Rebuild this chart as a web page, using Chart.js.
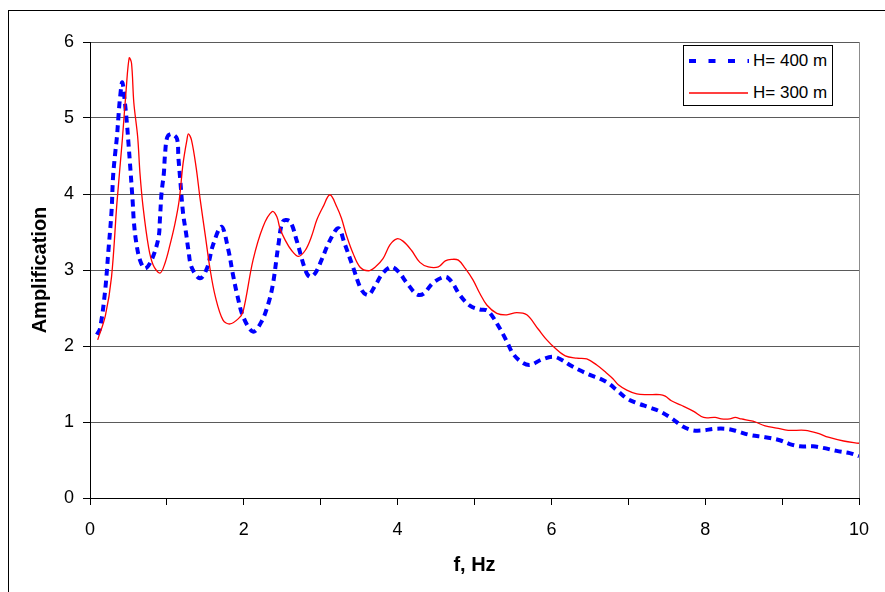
<!DOCTYPE html>
<html>
<head>
<meta charset="utf-8">
<script src="https://cdn.jsdelivr.net/npm/chart.js@4.4.1/dist/chart.umd.min.js"></script>
<style>
  html, body { margin: 0; padding: 0; background: #fff; }
  #wrap { position: relative; width: 885px; height: 592px; overflow: hidden; }
  #legend { position: absolute; left: 683px; top: 45px; width: 148px; height: 59px; border: 1px solid #000; background: #fff;
            font-family: 'Liberation Sans', Arial, sans-serif; font-size: 17px; color: #000; }
  .row { position: absolute; left: 0; height: 20px; width: 148px; }
  .row svg { position: absolute; left: 4px; top: 0; }
  .row span { position: absolute; left: 69px; top: 0px; white-space: nowrap; line-height: 20px; }
</style>
</head>
<body>
<div id="wrap">
  <canvas id="c" width="885" height="592"></canvas>
  <div id="legend">
    <div class="row" style="top:5px">
      <svg width="62" height="20"><line x1="1" y1="10" x2="61" y2="10" stroke="#0000ff" stroke-width="4" stroke-dasharray="7,12.5"/></svg>
      <span>H= 400 m</span>
    </div>
    <div class="row" style="top:37px">
      <svg width="62" height="20"><line x1="1" y1="10" x2="60" y2="10" stroke="#ff0000" stroke-width="1.5"/></svg>
      <span>H= 300 m</span>
    </div>
  </div>
</div>
<script>
// ---- data ----
const seriesNames = ['H= 400 m', 'H= 300 m'];

const f400 = [0.09, 0.13, 0.195, 0.24, 0.28, 0.30, 0.325, 0.35, 0.37, 0.39, 0.42, 0.455, 0.48, 0.50, 0.52, 0.555, 0.57, 0.60, 0.65, 0.715,
  0.80, 0.89, 0.91, 0.93, 0.96, 0.975, 1.005, 1.06, 1.13, 1.15, 1.17, 1.21, 1.25, 1.28, 1.32, 1.43, 1.52, 1.60, 1.71, 1.80,
  1.855, 1.915, 1.99, 2.12, 2.23, 2.32, 2.38, 2.45, 2.51, 2.60, 2.69, 2.80, 2.86, 2.93, 3.01, 3.12, 3.23, 3.31, 3.42, 3.53,
  3.62, 3.71, 3.81, 3.92, 4.01, 4.12, 4.25, 4.34, 4.46, 4.62, 4.70, 4.81, 4.94, 5.07, 5.16, 5.22, 5.33, 5.42, 5.50, 5.61,
  5.72, 5.87, 6.02, 6.13, 6.24, 6.37, 6.50, 6.63, 6.74, 6.85, 6.98, 7.11, 7.28, 7.41, 7.56, 7.71, 7.84, 7.98, 8.11, 8.28,
  8.41, 8.58, 8.78, 8.97, 9.10, 9.23, 9.40, 9.53, 9.71, 9.88, 10.0];
const a400 = [2.15, 2.23, 2.71, 3.26, 3.77, 4.23, 4.51, 4.75, 5.02, 5.26, 5.47, 5.19, 4.93, 4.67, 4.40, 3.90, 3.64, 3.37, 3.13, 3.02,
  3.13, 3.42, 3.68, 4.01, 4.27, 4.51, 4.75, 4.79, 4.73, 4.47, 4.23, 3.75, 3.48, 3.26, 3.04, 2.89, 3.02, 3.33, 3.57, 3.26,
  2.96, 2.67, 2.39, 2.19, 2.32, 2.56, 2.82, 3.33, 3.64, 3.64, 3.38, 3.00, 2.91, 2.96, 3.13, 3.39, 3.55, 3.35, 3.04, 2.74,
  2.67, 2.80, 2.96, 3.04, 2.98, 2.83, 2.68, 2.69, 2.83, 2.91, 2.85, 2.67, 2.53, 2.48, 2.47, 2.41, 2.23, 2.06, 1.90, 1.79,
  1.75, 1.82, 1.86, 1.82, 1.75, 1.68, 1.62, 1.57, 1.51, 1.42, 1.31, 1.25, 1.19, 1.14, 1.05, 0.94, 0.89, 0.89, 0.91, 0.91,
  0.88, 0.83, 0.80, 0.76, 0.71, 0.68, 0.68, 0.66, 0.62, 0.59, 0.55];

const f300 = [0.10, 0.20, 0.28, 0.35, 0.42, 0.47, 0.51, 0.54, 0.57, 0.62, 0.65, 0.69, 0.76, 0.82, 0.91, 0.975, 1.04, 1.105, 1.16, 1.21,
  1.26, 1.28, 1.32, 1.38, 1.43, 1.50, 1.56, 1.63, 1.73, 1.82, 1.93, 1.99, 2.12, 2.25, 2.37, 2.43, 2.47, 2.54, 2.62, 2.71,
  2.80, 2.88, 2.95, 3.03, 3.12, 3.21, 3.27, 3.34, 3.42, 3.51, 3.62, 3.71, 3.81, 3.90, 3.99, 4.07, 4.18, 4.29, 4.40, 4.53,
  4.62, 4.70, 4.79, 4.88, 4.98, 5.07, 5.16, 5.29, 5.42, 5.55, 5.68, 5.83, 5.94, 6.05, 6.18, 6.33, 6.46, 6.59, 6.70, 6.80,
  6.87, 6.98, 7.11, 7.24, 7.41, 7.48, 7.56, 7.69, 7.85, 7.98, 8.13, 8.21, 8.32, 8.39, 8.47, 8.62, 8.78, 8.93, 9.08, 9.30,
  9.47, 9.60, 9.80, 10.0];
const a300 = [2.08, 2.40, 2.91, 3.88, 4.71, 5.37, 5.79, 5.72, 5.20, 4.75, 4.27, 3.83, 3.31, 3.07, 2.96, 3.09, 3.33, 3.61, 3.92, 4.40,
  4.71, 4.79, 4.71, 4.35, 3.95, 3.45, 3.02, 2.65, 2.34, 2.29, 2.36, 2.45, 3.13, 3.57, 3.77, 3.70, 3.55, 3.39, 3.26, 3.18,
  3.26, 3.44, 3.66, 3.83, 3.99, 3.83, 3.68, 3.44, 3.22, 3.04, 2.99, 3.04, 3.15, 3.33, 3.41, 3.38, 3.26, 3.10, 3.04, 3.04,
  3.12, 3.14, 3.13, 3.02, 2.87, 2.69, 2.54, 2.43, 2.41, 2.44, 2.41, 2.22, 2.08, 1.97, 1.87, 1.84, 1.83, 1.75, 1.66, 1.57,
  1.49, 1.42, 1.37, 1.36, 1.36, 1.34, 1.28, 1.22, 1.14, 1.06, 1.06, 1.04, 1.04, 1.06, 1.04, 1.01, 0.95, 0.92, 0.89, 0.89,
  0.85, 0.80, 0.75, 0.72];

const xTickLabels = ['0', '', '2', '', '4', '', '6', '', '8', '', '10'];
const yTickLabels = ['0', '1', '2', '3', '4', '5', '6'];

const toPts = (fs, as) => fs.map((f, i) => ({ x: f, y: as[i] }));
const FONT = "'Liberation Sans', Arial, sans-serif";

const frame = {
  id: 'frame',
  afterDraw(chart) {
    const { ctx, chartArea } = chart;
    ctx.save();
    ctx.strokeStyle = '#000';
    ctx.lineWidth = 1;
    ctx.strokeRect(8.5, 10.5, 1000, 1000);
    ctx.strokeStyle = '#8c8c8c';
    ctx.beginPath();
    ctx.moveTo(Math.round(chartArea.right) + 0.5, chartArea.top);
    ctx.lineTo(Math.round(chartArea.right) + 0.5, chartArea.bottom);
    ctx.stroke();
    ctx.restore();
  }
};

new Chart(document.getElementById('c'), {
  type: 'scatter',
  data: {
    datasets: [
      { label: seriesNames[0], data: toPts(f400, a400), showLine: true, borderColor: '#0000ff', borderWidth: 4,
        borderDash: [7, 5], pointRadius: 0, tension: 0.35, order: 1 },
      { label: seriesNames[1], data: toPts(f300, a300), showLine: true, borderColor: '#ff0000', borderWidth: 1.3,
        pointRadius: 0, tension: 0.35, order: 0 }
    ]
  },
  options: {
    responsive: false,
    animation: false,
    events: [],
    layout: { padding: { left: 0, right: 26, top: 42, bottom: 0 } },
    plugins: { legend: { display: false }, tooltip: { enabled: false } },
    scales: {
      x: {
        type: 'linear', min: 0, max: 10,
        afterFit(s) { s.height = 94; },
        ticks: { stepSize: 1, autoSkip: false, maxRotation: 0, padding: 14, color: '#000',
                 font: { family: FONT, size: 18 },
                 callback: (v) => xTickLabels[Math.round(v)] },
        grid: { drawOnChartArea: false, drawTicks: true, tickLength: 7, color: '#000' },
        border: { display: true, color: '#000', width: 1 },
        title: { display: true, text: 'f, Hz', color: '#000', font: { family: FONT, size: 20, weight: 'bold' },
                 padding: { top: 0, bottom: 15 } }
      },
      y: {
        type: 'linear', min: 0, max: 6,
        afterFit(s) { s.width = 90; },
        ticks: { stepSize: 1, padding: 9, color: '#000', font: { family: FONT, size: 18 },
                 callback: (v) => yTickLabels[Math.round(v)] },
        grid: { color: '#5a5a5a', tickColor: '#000', tickLength: 7, lineWidth: 1 },
        border: { display: true, color: '#000', width: 1 },
        title: { display: true, text: 'Amplification', color: '#000', font: { family: FONT, size: 20, weight: 'bold' },
                 padding: { top: 28, bottom: 0 } }
      }
    }
  },
  plugins: [frame]
});
</script>
</body>
</html>
